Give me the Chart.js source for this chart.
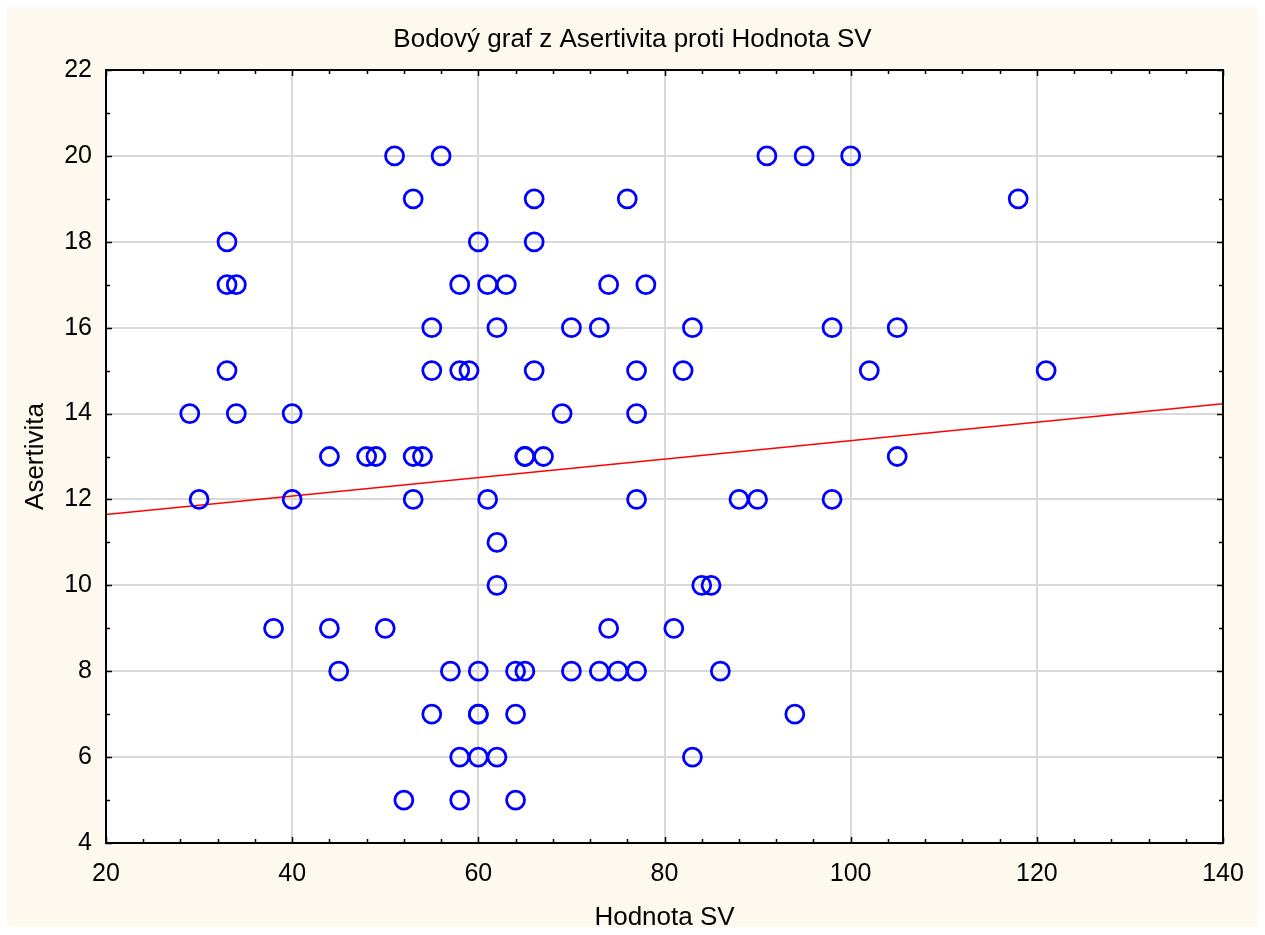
<!DOCTYPE html>
<html>
<head>
<meta charset="utf-8">
<script src="https://cdn.jsdelivr.net/npm/chart.js@4.4.1/dist/chart.umd.min.js"></script>
<style>
  html, body { margin: 0; padding: 0; background: #fff; }
  #wrap { width: 1265px; height: 935px; }
</style>
</head>
<body>
<div id="wrap"><canvas id="c" width="1265" height="935"></canvas></div>
<script>
// Hodnota SV (x) and Asertivita (y), one pair per circle
var hodnotaSV = [
  51, 56, 91, 95, 100,
  53, 66, 76, 118,
  33, 60, 66,
  33, 34, 58, 61, 63, 74, 78,
  55, 62, 70, 73, 83, 98, 105,
  33, 55, 58, 59, 66, 77, 82, 102, 121,
  29, 34, 40, 69, 77,
  44, 48, 49, 53, 54, 65, 65, 67, 105,
  30, 40, 53, 61, 77, 88, 90, 98,
  62,
  62, 84, 85,
  38, 44, 50, 74, 81,
  45, 57, 60, 64, 65, 70, 73, 75, 77, 86,
  55, 60, 60, 64, 94,
  58, 60, 62, 83,
  52, 58, 64
];
var asertivita = [
  20, 20, 20, 20, 20,
  19, 19, 19, 19,
  18, 18, 18,
  17, 17, 17, 17, 17, 17, 17,
  16, 16, 16, 16, 16, 16, 16,
  15, 15, 15, 15, 15, 15, 15, 15, 15,
  14, 14, 14, 14, 14,
  13, 13, 13, 13, 13, 13, 13, 13, 13,
  12, 12, 12, 12, 12, 12, 12, 12,
  11,
  10, 10, 10,
  9, 9, 9, 9, 9,
  8, 8, 8, 8, 8, 8, 8, 8, 8, 8,
  7, 7, 7, 7, 7,
  6, 6, 6, 6,
  5, 5, 5
];
// regression line end points
var fitX = [20, 140];
var fitY = [11.65, 14.23];

var xTicks = [20, 40, 60, 80, 100, 120, 140];
var yTicks = [4, 6, 8, 10, 12, 14, 16, 18, 20, 22];

var chartTitle = "Bodový graf z Asertivita proti Hodnota SV";
var xTitle = "Hodnota SV";
var yTitle = "Asertivita";

var FONT = "'Liberation Sans', Arial, sans-serif";

var points = hodnotaSV.map(function (x, i) { return { x: x, y: asertivita[i] }; });
var fitLine = fitX.map(function (x, i) { return { x: x, y: fitY[i] }; });

// background panel, frame, inward ticks and texts
var decor = {
  id: "decor",
  beforeDraw(chart) {
    var ctx = chart.ctx, a = chart.chartArea;
    ctx.save();
    ctx.fillStyle = "#ffffff";
    ctx.fillRect(0, 0, chart.width, chart.height);
    ctx.fillStyle = "#fdf9ee";
    ctx.fillRect(7, 7, 1251, 920);
    ctx.fillStyle = "#ffffff";
    ctx.fillRect(a.left, a.top, a.right - a.left, a.bottom - a.top);
    ctx.restore();
  },
  afterDraw(chart) {
    var ctx = chart.ctx, a = chart.chartArea;
    var xs = chart.scales.x, ys = chart.scales.y;
    ctx.save();
    ctx.strokeStyle = "#000";
    ctx.lineWidth = 1.5;
    // minor + major ticks, pointing inward
    for (var v = 20; v <= 140; v += 4) {
      var px = Math.round(xs.getPixelForValue(v)) + 0.5;
      var len = (v % 20 === 0) ? 6 : 4;
      ctx.beginPath();
      ctx.moveTo(px, a.bottom); ctx.lineTo(px, a.bottom - len);
      ctx.moveTo(px, a.top); ctx.lineTo(px, a.top + len);
      ctx.stroke();
    }
    for (var w = 4; w <= 22; w += 1) {
      var py = Math.round(ys.getPixelForValue(w)) + 0.5;
      var l2 = (w % 2 === 0) ? 6 : 4;
      ctx.beginPath();
      ctx.moveTo(a.left, py); ctx.lineTo(a.left + l2, py);
      ctx.moveTo(a.right, py); ctx.lineTo(a.right - l2, py);
      ctx.stroke();
    }
    ctx.lineWidth = 2;
    ctx.strokeRect(a.left, a.top, a.right - a.left, a.bottom - a.top);

    ctx.fillStyle = "#000";
    ctx.textAlign = "center";
    ctx.textBaseline = "alphabetic";
    ctx.font = "26px " + FONT;
    ctx.fillText(chartTitle, chart.width / 2, 47);
    ctx.fillText(xTitle, (a.left + a.right) / 2, 925);
    ctx.translate(43, (a.top + a.bottom) / 2);
    ctx.rotate(-Math.PI / 2);
    ctx.fillText(yTitle, 0, 0);
    ctx.restore();
  }
};

new Chart(document.getElementById("c"), {
  type: "scatter",
  data: {
    datasets: [
      {
        type: "line",
        data: fitLine,
        borderColor: "#ff0000",
        borderWidth: 1.5,
        pointRadius: 0,
        fill: false,
        order: 2
      },
      {
        data: points,
        pointStyle: "circle",
        pointRadius: 9,
        pointBorderWidth: 2.8,
        pointBackgroundColor: "rgba(0,0,0,0)",
        pointBorderColor: "#0000ff",
        pointHoverRadius: 9,
        order: 1
      }
    ]
  },
  options: {
    responsive: false,
    animation: false,
    events: [],
    layout: { padding: { left: 0, right: 42, top: 70, bottom: 0 } },
    plugins: { legend: { display: false }, tooltip: { enabled: false } },
    scales: {
      x: {
        type: "linear",
        min: 20, max: 140,
        afterBuildTicks(s) { s.ticks = xTicks.map(function (v) { return { value: v }; }); },
        afterFit(s) { s.height = 92; },
        grid: { color: "#d9d9d9", lineWidth: 2, drawTicks: false },
        border: { display: false },
        ticks: { color: "#000", padding: 16, font: { family: FONT, size: 25 } }
      },
      y: {
        type: "linear",
        min: 4, max: 22,
        afterBuildTicks(s) { s.ticks = yTicks.map(function (v) { return { value: v }; }); },
        afterFit(s) { s.width = 106; },
        grid: { color: "#d9d9d9", lineWidth: 2, drawTicks: false },
        border: { display: false },
        ticks: { color: "#000", padding: 14, font: { family: FONT, size: 25 } }
      }
    }
  },
  plugins: [decor]
});
</script>
</body>
</html>
